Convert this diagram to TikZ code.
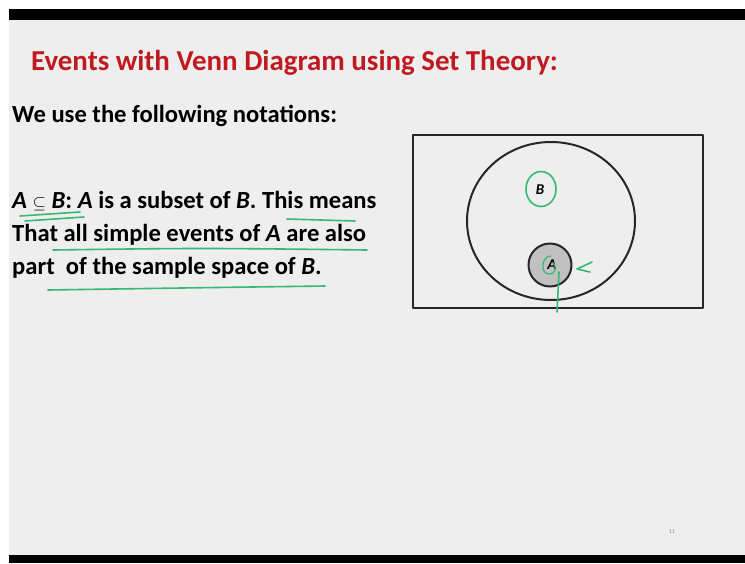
\documentclass[tikz,border=0pt]{standalone}
\usepackage{fontspec}
\setmainfont{Carlito}
\usetikzlibrary{shapes.geometric}
\definecolor{titlered}{RGB}{192,26,32}
\definecolor{pen}{RGB}{55,185,115}
\definecolor{slide}{RGB}{238,238,238}
\definecolor{shade}{RGB}{192,192,192}
\tikzset{
  txt/.style={anchor=base west, inner sep=0pt, font=\fontsize{24.6}{28}\selectfont\bfseries},
  ink/.style={draw=pen, line width=1.6pt},
  rim/.style={draw=black!85, line width=2pt, inner sep=0pt},
}
\newcommand{\sym}[1]{\textit{\textbf{#1}}}
\begin{document}
\begin{tikzpicture}[x=1pt, y=-1pt, line join=round, line cap=round]
	\useasboundingbox (0,0) rectangle (745,563);
	\fill[white] (0,0) rectangle (745,563);
	\fill[slide] (9,20) rectangle (745,555);
	\fill[black] (9,9) rectangle (745,20);
	\fill[black] (9,555) rectangle (745,563);
	% texte
	\path
	(31,70) node[txt, text=titlered, font=\fontsize{28.9}{33}\selectfont\bfseries] (titel) {Events with Venn Diagram using Set Theory:}
	(12,122) node[txt] (notat) {We use the following notations:}
	(12,208) node[txt] (zeile1) {\sym{A} {\fontsize{19}{20}\selectfont$\subseteq$} \sym{B}: \sym{A} is a subset of \sym{B}. This means}
	(12,241) node[txt] (zeile2) {That all simple events of \sym{A} are also}
	(12,274) node[txt] (zeile3) {part\ \ of the sample space of \sym{B}.}
	(672,532) node[inner sep=0pt, text=black!45, font=\fontsize{6}{7}\selectfont] (seite) {11};
	% venn
	\node[rim, rectangle, minimum width=290, minimum height=173] (omega) at (558,221.5) {};
	\node[rim, ellipse, minimum width=168, minimum height=158] (mengeB) at (551,221) {};
	\node[rim, circle, fill=shade, minimum size=43] (mengeA) at (550,265) {};
	\node[font=\fontsize{15}{16}\selectfont] (labA) at (552,265) {\sym{A}};
	\node[font=\fontsize{15}{16}\selectfont] (labB) at (540,190) {\sym{B}};
	% gruene markierungen
	\node[ink, ellipse, minimum width=30, minimum height=35, inner sep=0pt] (ringB) at (541,189) {};
	\draw[ink] (20,216)--(80,212) (25,221)--(84,217);
	\draw[ink] (287,219)--(355,221);
	\draw[ink] (53,250) .. controls (200,248) .. (367,250);
	\draw[ink] (48,290) .. controls (180,288) .. (325,286);
	\draw[ink, line width=1.2pt] (551,256) .. controls (541,256) and (540,274) .. (549,274) .. controls (556,274) and (557,267) .. (553,263);
	\draw[ink] (559,272)--(557,312);
	\draw[ink] (592,262)--(577,269)--(590,272);
\end{tikzpicture}
\end{document}
